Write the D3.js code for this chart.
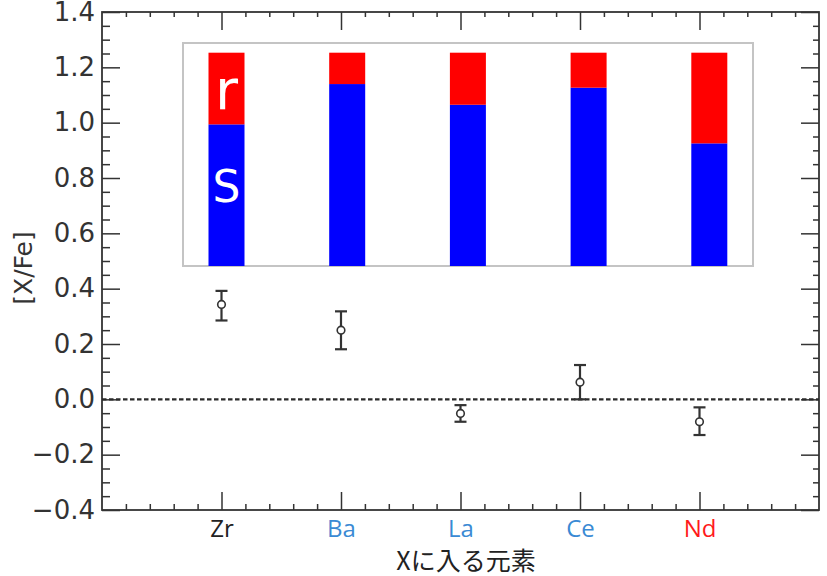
<!DOCTYPE html>
<html>
<head>
<meta charset="utf-8">
<script src="https://cdn.jsdelivr.net/npm/d3@7"></script>
<style>
  html, body { margin: 0; padding: 0; background: #fff; }
  svg { display: block; }
</style>
</head>
<body>
<svg id="chart" width="827" height="576"></svg>
<script>
// Elements on the x axis
const elements = ["Zr", "Ba", "La", "Ce", "Nd"];
const elementColors = ["#222222", "#3a8ad4", "#3a8ad4", "#3a8ad4", "#ff1a1a"];

// Measured [X/Fe] with error range
const abundance = [0.343, 0.250, -0.051, 0.062, -0.081];
const errLow    = [0.285, 0.181, -0.081, 0.000, -0.129];
const errHigh   = [0.392, 0.318, -0.021, 0.124, -0.029];

// s-process share of each element (the rest is r-process)
const sFraction = [0.664, 0.853, 0.756, 0.836, 0.575];

// Axis ticks
const yMajorTicks = [-0.4, -0.2, 0.0, 0.2, 0.4, 0.6, 0.8, 1.0, 1.2, 1.4];
const yMinorTicks = d3.range(-0.4, 1.4001, 0.05).map(v => +v.toFixed(2))
  .filter(v => !yMajorTicks.some(m => Math.abs(m - v) < 1e-6));
const xMajorTicks = [1, 2, 3, 4, 5];
const xMinorTicks = d3.range(0, 6.0001, 0.2).map(v => +v.toFixed(1))
  .filter(v => !xMajorTicks.includes(v) && v > 0 && v < 6);

const svg = d3.select("#chart");
const frame = { left: 102, right: 819, top: 12, bottom: 510 };

const x = d3.scaleLinear().domain([0, 6]).range([frame.left, frame.right]);
const y = d3.scaleLinear().domain([-0.4, 1.4]).range([frame.bottom, frame.top]);

const axisColor = "#333";
const majorLen = 18, minorLenY = 8, minorLenX = 6;

function styleAxis(g) {
  g.select(".domain").remove();
  g.selectAll(".tick line").attr("stroke", axisColor).attr("stroke-width", 1.5);
}

// Left axis with labels
const gLeft = svg.append("g").attr("transform", `translate(${frame.left},0)`)
  .call(d3.axisLeft(y).tickValues(yMajorTicks).tickSizeInner(-majorLen).tickSizeOuter(0)
    .tickPadding(7).tickFormat(d3.format(".1f")));
styleAxis(gLeft);
gLeft.selectAll(".tick text")
  .attr("font-family", "DejaVu Sans, sans-serif").attr("font-size", 26).attr("fill", "#333");
svg.append("g").attr("transform", `translate(${frame.left},0)`)
  .call(d3.axisLeft(y).tickValues(yMinorTicks).tickSizeInner(-minorLenY).tickSizeOuter(0).tickFormat(""))
  .call(styleAxis);

// Right axis (ticks only)
svg.append("g").attr("transform", `translate(${frame.right},0)`)
  .call(d3.axisRight(y).tickValues(yMajorTicks).tickSizeInner(-majorLen).tickSizeOuter(0).tickFormat(""))
  .call(styleAxis);
svg.append("g").attr("transform", `translate(${frame.right},0)`)
  .call(d3.axisRight(y).tickValues(yMinorTicks).tickSizeInner(-minorLenY + 2).tickSizeOuter(0).tickFormat(""))
  .call(styleAxis);

// Bottom axis with element names
const gBottom = svg.append("g").attr("transform", `translate(0,${frame.bottom})`)
  .call(d3.axisBottom(x).tickValues(xMajorTicks).tickSizeInner(-majorLen).tickSizeOuter(0)
    .tickPadding(10).tickFormat(d => elements[d - 1]));
styleAxis(gBottom);
gBottom.selectAll(".tick text")
  .attr("font-family", "Open Sans, DejaVu Sans, sans-serif").attr("font-size", 24)
  .attr("fill", d => elementColors[d - 1]);
svg.append("g").attr("transform", `translate(0,${frame.bottom})`)
  .call(d3.axisBottom(x).tickValues(xMinorTicks).tickSizeInner(-minorLenX).tickSizeOuter(0).tickFormat(""))
  .call(styleAxis);

// Top axis (ticks only)
svg.append("g").attr("transform", `translate(0,${frame.top})`)
  .call(d3.axisTop(x).tickValues(xMajorTicks).tickSizeInner(-majorLen).tickSizeOuter(0).tickFormat(""))
  .call(styleAxis);
svg.append("g").attr("transform", `translate(0,${frame.top})`)
  .call(d3.axisTop(x).tickValues(xMinorTicks).tickSizeInner(-minorLenX + 1).tickSizeOuter(0).tickFormat(""))
  .call(styleAxis);

// Plot frame
svg.append("rect")
  .attr("x", frame.left).attr("y", frame.top)
  .attr("width", frame.right - frame.left).attr("height", frame.bottom - frame.top)
  .attr("fill", "none").attr("stroke", axisColor).attr("stroke-width", 1.8);

// Zero reference line
svg.append("line")
  .attr("x1", frame.left).attr("x2", frame.right)
  .attr("y1", y(0)).attr("y2", y(0))
  .attr("stroke", "#2a2a2a").attr("stroke-width", 2.2).attr("stroke-dasharray", "4.5,2.5");

// Error bars and points
const points = svg.append("g");
const capHalf = 6;
elements.forEach((el, i) => {
  const cx = x(i + 1);
  const g = points.append("g").attr("stroke", "#333").attr("fill", "none");
  g.append("line").attr("x1", cx).attr("x2", cx).attr("y1", y(errLow[i])).attr("y2", y(errHigh[i]))
    .attr("stroke-width", 2.2);
  g.append("line").attr("x1", cx - capHalf).attr("x2", cx + capHalf)
    .attr("y1", y(errHigh[i])).attr("y2", y(errHigh[i])).attr("stroke-width", 2.2);
  g.append("line").attr("x1", cx - capHalf).attr("x2", cx + capHalf)
    .attr("y1", y(errLow[i])).attr("y2", y(errLow[i])).attr("stroke-width", 2.2);
  g.append("circle").attr("cx", cx).attr("cy", y(abundance[i])).attr("r", 3.8)
    .attr("fill", "#fff").attr("stroke-width", 1.6);
});

// Axis titles
svg.append("text")
  .attr("transform", `translate(23,268) rotate(-90)`)
  .attr("text-anchor", "middle").attr("dominant-baseline", "central")
  .attr("font-family", "DejaVu Sans, sans-serif").attr("font-size", 25).attr("fill", "#333")
  .text("[X/Fe]");
svg.append("text")
  .attr("x", 466).attr("y", 570)
  .attr("text-anchor", "middle")
  .attr("font-family", "Noto Sans CJK JP, sans-serif").attr("font-size", 25).attr("fill", "#222")
  .text("Xに入る元素");

// Inset: s/r-process composition of each element
const inset = { left: 183, right: 753, top: 43, bottom: 266 };
const ix = d3.scaleLinear().domain([0, 4]).range([226.5, 709.3]);
const iy = d3.scaleLinear().domain([0, 1]).range([inset.bottom, 52.7]);
const barW = 36;
const gi = svg.append("g");
gi.append("rect")
  .attr("x", inset.left).attr("y", inset.top)
  .attr("width", inset.right - inset.left).attr("height", inset.bottom - inset.top)
  .attr("fill", "#fff").attr("stroke", "#c4c4c4").attr("stroke-width", 2);
gi.selectAll("rect.s").data(sFraction).join("rect").attr("class", "s")
  .attr("x", (d, i) => ix(i) - barW / 2).attr("width", barW)
  .attr("y", d => iy(d)).attr("height", d => iy(0) - iy(d))
  .attr("fill", "#0000ff");
gi.selectAll("rect.r").data(sFraction).join("rect").attr("class", "r")
  .attr("x", (d, i) => ix(i) - barW / 2).attr("width", barW)
  .attr("y", iy(1)).attr("height", d => iy(d) - iy(1))
  .attr("fill", "#ff0000");
gi.append("text")
  .attr("x", ix(0)).attr("y", 109)
  .attr("text-anchor", "middle")
  .attr("font-family", "DejaVu Sans, sans-serif").attr("font-size", 56).attr("fill", "#fff")
  .text("r");
gi.append("text")
  .attr("x", ix(0)).attr("y", 202)
  .attr("text-anchor", "middle")
  .attr("font-family", "DejaVu Sans, sans-serif").attr("font-size", 44).attr("fill", "#fff")
  .text("S");
</script>
</body>
</html>
